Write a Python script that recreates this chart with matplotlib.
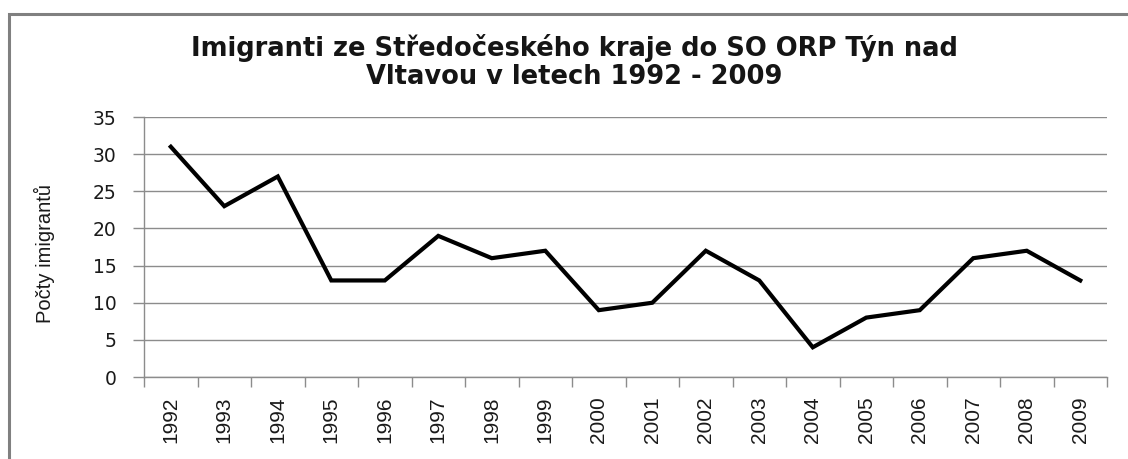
import numpy as np
import matplotlib.pyplot as plt
from matplotlib.patches import Rectangle

years = ['1992', '1993', '1994', '1995', '1996', '1997', '1998', '1999', '2000',
         '2001', '2002', '2003', '2004', '2005', '2006', '2007', '2008', '2009']
immigrants = [31, 23, 27, 13, 13, 19, 16, 17, 9, 10, 17, 13, 4, 8, 9, 16, 17, 13]
yticks = [0, 5, 10, 15, 20, 25, 30, 35]

fig = plt.figure(figsize=(11.28, 4.59), dpi=100)
ax = fig.add_axes([0.1277, 0.1786, 0.8537, 0.5664])

x = np.arange(len(years))
ax.plot(x, immigrants, color='black', lw=3, solid_joinstyle='miter', zorder=3)

ax.set_xlim(-0.5, len(years) - 0.5)
ax.set_ylim(0, 35)
ax.set_yticks(yticks)
ax.set_yticklabels([str(v) for v in yticks], fontsize=13.5, family='DejaVu Sans', color='#1a1a1a')
ax.yaxis.grid(True, color='#8c8c8c', lw=1)
ax.set_axisbelow(True)

# category labels at centres, tick marks between categories
ax.set_xticks(x)
ax.set_xticklabels(years, rotation=90, fontsize=15, family='Liberation Sans', color='#1a1a1a')
ax.tick_params(axis='x', which='major', length=0, pad=14)
ax.set_xticks(np.arange(-0.5, len(years)), minor=True)
ax.tick_params(axis='x', which='minor', length=7, color='#8c8c8c', width=1)
ax.tick_params(axis='y', length=8, color='#8c8c8c', width=1, pad=12)

for s in ['top', 'right']:
    ax.spines[s].set_visible(False)
for s in ['left', 'bottom']:
    ax.spines[s].set_color('#8c8c8c')
    ax.spines[s].set_linewidth(1)

ax.set_ylabel('Počty imigrantů', fontsize=14.5, family='Liberation Sans', color='#1a1a1a')
ax.yaxis.label.set_va('center')
ax.yaxis.set_label_coords((44 - 144) / 963, (377 - 253) / 260)

fig.text(0.509, 0.866, 'Imigranti ze Středočeského kraje do SO ORP Týn nad\nVltavou v letech 1992 - 2009',
         ha='center', va='center', fontsize=18.5, family='DejaVu Sans', weight='bold',
         linespacing=1.1, color='#151515')

# chart border (top and left edges visible)
fig.patches.append(Rectangle((8.5 / 1128, -0.1), 1.2, 1.1 - 14.5 / 459,
                             transform=fig.transFigure, fill=False,
                             edgecolor='#808080', lw=2.2, clip_on=False))

fig.savefig('out.png', dpi=100)
